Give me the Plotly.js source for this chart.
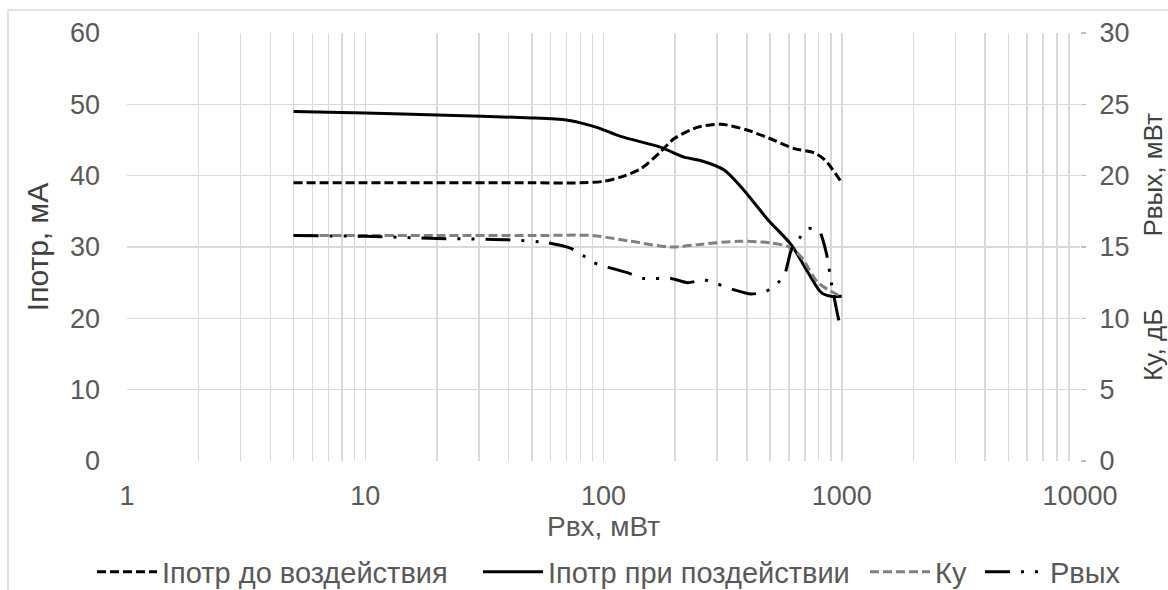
<!DOCTYPE html>
<html>
<head>
<meta charset="utf-8">
<script src="https://cdn.plot.ly/plotly-3.0.1.min.js"></script>
<style>
  html, body { margin: 0; padding: 0; background: #ffffff; overflow: hidden; }
  #chart { width: 1168px; height: 590px; }
</style>
</head>
<body>
<div id="chart"></div>
<script>
// ---- data ----
const xTickVals = [1, 10, 100, 1000, 10000];
const xTickText = ['1', '10', '100', '1000', '10000'];

// Iпотр до воздействия (left axis, мА)
const iBeforeX = [5, 10, 20, 50, 80, 100, 118, 144, 173, 198, 249, 312, 400, 491, 632, 767, 850, 1000];
const iBeforeY = [39, 39, 39, 39, 39, 39.2, 39.8, 41, 43.3, 45.2, 46.8, 47.2, 46.4, 45.3, 43.8, 43.2, 42.2, 39];

// Iпотр при поздействии (left axis, мА)
const iAfterX = [5, 10, 20, 50, 70, 80, 95, 118, 173, 218, 257, 321, 378, 491, 614, 723, 821, 900, 1000];
const iAfterY = [49, 48.8, 48.5, 48.1, 47.8, 47.4, 46.7, 45.5, 44.0, 42.6, 42.1, 40.8, 38.4, 33.8, 30.3, 26.4, 23.6, 23.1, 23.1];

// Ку (right axis, дБ)
const kuX = [5, 20, 50, 90, 130, 192, 260, 367, 500, 600, 676, 796, 1000];
const kuY = [15.8, 15.8, 15.8, 15.8, 15.4, 15.0, 15.2, 15.4, 15.3, 15.0, 14.3, 12.5, 11.5];

// Рвых (right axis, мВт)
const poutX = [5, 10, 20, 40, 58, 73, 82, 91, 126, 146, 192, 226, 264, 302, 353, 417, 482, 541, 579, 614, 663, 724, 805, 861, 904, 968, 1000];
const poutY = [15.8, 15.75, 15.6, 15.5, 15.3, 14.9, 14.4, 13.9, 13.2, 12.8, 12.8, 12.5, 12.7, 12.4, 12.0, 11.7, 11.9, 12.5, 13.2, 14.8, 15.6, 16.3, 16.1, 14.6, 12.5, 10.0, 9.1];

const seriesNames = ['Iпотр до воздействия', 'Iпотр при поздействии', 'Ку', 'Рвых'];

// ---- styling ----
const FONT = 'Liberation Sans, Arial, sans-serif';
const TXT = '#595959';
const GRID = '#d9d9d9';
const W = 1168, H = 590, ML = 127, MR = 88, MT = 33, MB = 129;
const PW = W - ML - MR, PH = H - MT - MB;
const px2x = p => (p - ML) / PW;
const py2y = p => (H - MB - p) / PH;

const traces = [
  {
    x: iBeforeX, y: iBeforeY, name: seriesNames[0], type: 'scatter', mode: 'lines',
    line: { color: '#000000', width: 3, dash: '9px,4px', shape: 'spline', smoothing: 0.8 },
    yaxis: 'y', legend: 'legend'
  },
  {
    x: iAfterX, y: iAfterY, name: seriesNames[1], type: 'scatter', mode: 'lines',
    line: { color: '#000000', width: 3, shape: 'spline', smoothing: 0.8 },
    yaxis: 'y', legend: 'legend2'
  },
  {
    x: kuX, y: kuY, name: seriesNames[2], type: 'scatter', mode: 'lines',
    line: { color: '#808080', width: 3, dash: '9px,4px', shape: 'spline', smoothing: 0.8 },
    yaxis: 'y2', legend: 'legend3'
  },
  {
    x: poutX, y: poutY, name: seriesNames[3], type: 'scatter', mode: 'lines',
    line: { color: '#000000', width: 3, dash: '25px,11px,3px,11px,3px,11px', shape: 'spline', smoothing: 0.6 },
    yaxis: 'y2', legend: 'legend4'
  }
];

const nb = '\u00A0';
const rightTitle = 'Ку, дБ' + nb.repeat(10) + 'Рвых, мВт';

function leg(pxLeft) {
  return {
    orientation: 'h', x: px2x(pxLeft), xanchor: 'left', y: py2y(572), yanchor: 'middle',
    font: { family: FONT, color: TXT, size: 29 },
    itemwidth: 60, bgcolor: 'rgba(0,0,0,0)', borderwidth: 0
  };
}

const layout = {
  width: W, height: H,
  margin: { l: ML, r: MR, t: MT, b: MB, pad: 0, autoexpand: false },
  paper_bgcolor: 'rgba(0,0,0,0)',
  plot_bgcolor: 'rgba(0,0,0,0)',
  font: { family: FONT, color: TXT, size: 26 },
  showlegend: true,
  legend: leg(92),
  legend2: leg(478),
  legend3: leg(865),
  legend4: leg(980),
  xaxis: {
    type: 'log', range: [0, 4],
    tickvals: xTickVals, ticktext: xTickText,
    ticks: '', showline: false, zeroline: false,
    showgrid: true, gridcolor: GRID, gridwidth: 1.5,
    minor: { dtick: 'D1', showgrid: true, gridcolor: GRID, gridwidth: 1.5, ticks: '' },
    tickfont: { family: FONT, color: TXT, size: 27 },
    ticklabelstandoff: 16,
    title: { text: 'Рвх, мВт', font: { family: FONT, color: TXT, size: 28 }, standoff: 4 },
    automargin: false
  },
  yaxis: {
    range: [0, 60], dtick: 10, tick0: 0,
    ticks: '', showline: false, zeroline: false,
    showgrid: true, gridcolor: GRID, gridwidth: 1.5,
    tickfont: { family: FONT, color: TXT, size: 27 },
    ticklabelstandoff: 26,
    title: { text: 'Iпотр, мА', font: { family: FONT, color: '#404040', size: 30 }, standoff: 12 },
    automargin: false
  },
  yaxis2: {
    range: [0, 30], dtick: 5, tick0: 0,
    overlaying: 'y', side: 'right',
    ticks: 'outside', ticklen: 5, tickcolor: '#bfbfbf', tickwidth: 1.5,
    showline: false, zeroline: false, showgrid: false,
    tickfont: { family: FONT, color: TXT, size: 27 },
    ticklabelstandoff: 8,
    title: { text: rightTitle, font: { family: FONT, color: '#404040', size: 26 }, standoff: 18 },
    automargin: false
  },
  shapes: [
    {
      type: 'rect', xref: 'paper', yref: 'paper',
      x0: px2x(8), x1: 1.3,
      y0: -0.5, y1: py2y(10),
      line: { color: GRID, width: 1.5 }, fillcolor: 'rgba(0,0,0,0)', layer: 'below'
    }
  ]
};

Plotly.newPlot('chart', traces, layout, { displayModeBar: false, staticPlot: true });
</script>
</body>
</html>
